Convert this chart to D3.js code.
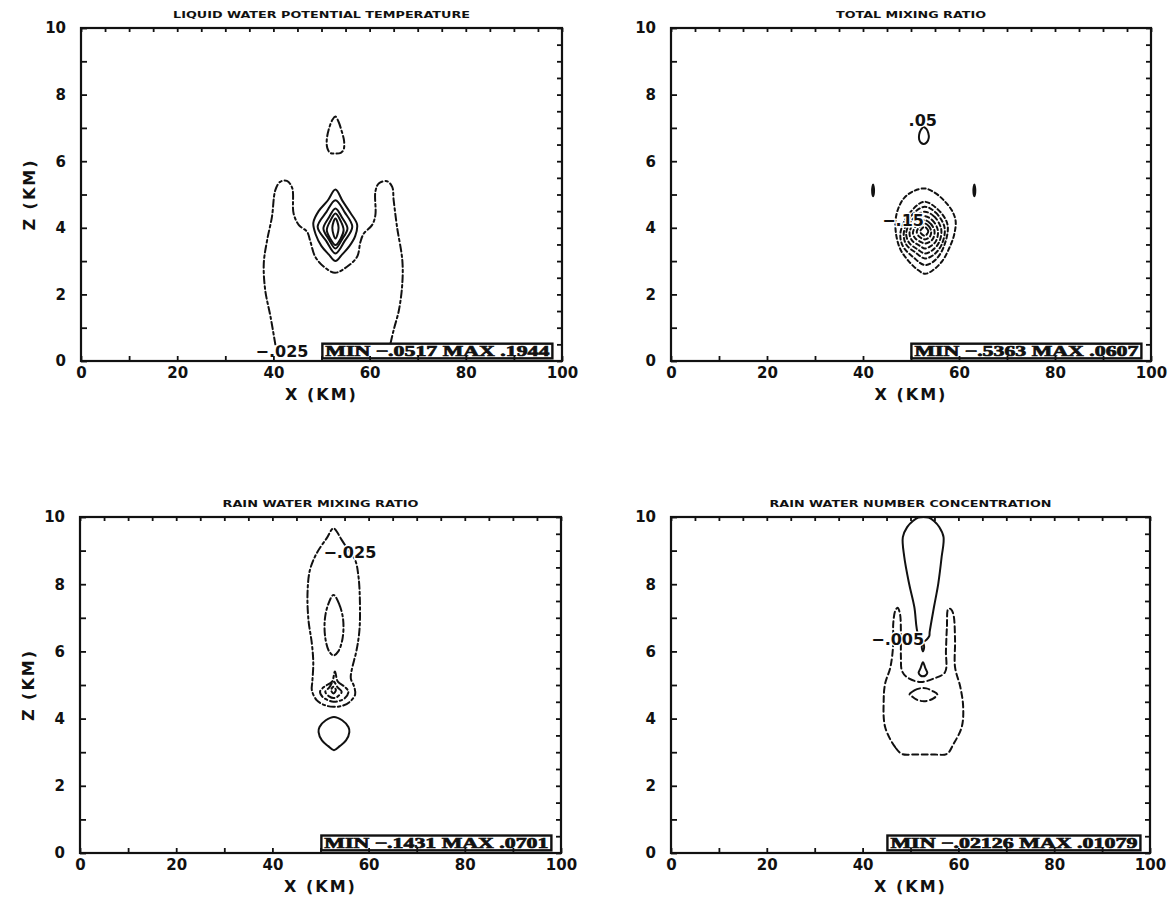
<!DOCTYPE html>
<html>
<head>
<meta charset="utf-8">
<script src="https://cdn.jsdelivr.net/npm/d3@7"></script>
<style>
  body { margin: 0; background: #fff; }
  svg { display: block; }
</style>
</head>
<body>
<svg id="fig" width="1173" height="899"></svg>
<script>
// ---- axis values -------------------------------------------------------
const xTicks = [0, 20, 40, 60, 80, 100];
const zTicks = [0, 2, 4, 6, 8, 10];

// ---- panel titles and field extremes -----------------------------------
const titles = [
  "LIQUID WATER POTENTIAL TEMPERATURE",
  "TOTAL MIXING RATIO",
  "RAIN WATER MIXING RATIO",
  "RAIN WATER NUMBER CONCENTRATION"
];
const minVals = ["\u2212.0517", "\u2212.5363", "\u2212.1431", "\u2212.02126"];
const maxVals = [".1944", ".0607", ".0701", ".01079"];

// ---- contour lines: [x (km), z (km)] vertices; sign = sign of contour level
// Liquid water potential temperature perturbation
const lwptLines = [
  { sign: -1, closed: false, pts: [[40.4,0.5],[39.4,1.33],[38.3,2.13],[38.0,2.93],[38.7,3.63],[39.7,4.33],[40.4,5.13],[41.4,5.38],[42.8,5.41],[43.9,5.2],[44.2,4.43],[45.3,4.08],[47.0,3.88],[47.7,3.58],[48.7,3.13],[50.5,2.83],[52.8,2.65],[55.3,2.83],[57.4,3.13],[58.1,3.58],[58.8,3.83],[60.5,4.08],[61.2,4.38],[61.2,5.08],[61.9,5.33],[63.6,5.4],[64.7,5.23],[65.0,4.83],[65.7,4.03],[66.8,3.03],[66.8,2.33],[66.1,1.53],[65.0,0.93],[64.3,0.5]] },
  { sign: -1, closed: true, pts: [[52.9,7.34],[53.5,7.2],[54.2,6.9],[54.7,6.6],[54.6,6.35],[54.0,6.25],[52.9,6.23],[51.8,6.25],[51.2,6.4],[51.1,6.65],[51.6,7.0],[52.3,7.25]] },
  { sign: 1, closed: true, pts: [[52.9,5.15],[54.4,4.8],[56.0,4.45],[57.4,4.1],[57.0,3.75],[55.8,3.45],[54.3,3.2],[52.9,3.0],[51.5,3.2],[50.0,3.45],[48.8,3.8],[48.3,4.15],[49.4,4.5],[51.3,4.82]] },
  { sign: 1, closed: true, pts: [[52.9,4.83],[54.8,4.47],[56.4,4.03],[54.8,3.6],[52.9,3.23],[51.0,3.6],[49.2,4.03],[51.0,4.47]] },
  { sign: 1, closed: true, pts: [[52.9,4.58],[54.3,4.3],[55.4,3.98],[54.3,3.66],[52.9,3.38],[51.5,3.66],[50.4,3.98],[51.5,4.3]] },
  { sign: 1, closed: true, pts: [[52.9,4.43],[54.0,4.2],[54.6,3.93],[54.0,3.68],[52.9,3.48],[51.8,3.68],[51.1,3.93],[51.8,4.2]] },
  { sign: 1, closed: true, pts: [[52.9,4.28],[53.55,4.0],[52.9,3.68],[52.25,4.0]] }
];
const lwptLabels = [{ text: "\u2212.025", x: 36.3, z: 0.3 }];

// Total mixing ratio perturbation
const qtLines = [
  { sign: 1, closed: true, pts: [[52.6,7.03],[52.1,6.95],[51.7,6.8],[51.7,6.65],[52.1,6.55],[52.7,6.52],[53.3,6.57],[53.7,6.7],[53.6,6.85],[53.2,6.97]] },
  { sign: 1, closed: true, pts: [[42.1,5.3],[42.3,5.12],[42.1,4.95],[41.9,5.12]] },
  { sign: 1, closed: true, pts: [[63.2,5.3],[63.4,5.12],[63.2,4.95],[63.0,5.12]] },
  { sign: -1, closed: true, pts: [[52.9,5.18],[55.0,5.05],[57.0,4.8],[58.6,4.5],[59.3,4.2],[59.0,3.8],[58.0,3.4],[56.5,3.0],[54.5,2.72],[52.9,2.62],[51.3,2.75],[49.5,3.0],[47.8,3.35],[46.9,3.8],[46.8,4.25],[47.4,4.6],[48.6,4.9],[50.5,5.1]] },
  { sign: -1, closed: true, pts: [[52.7,4.78],[55.6,4.55],[57.6,4.1],[57.0,3.5],[55.2,3.05],[52.9,2.88],[50.6,3.1],[48.3,3.45],[47.8,3.85],[49.5,4.4]] },
  { sign: -1, closed: true, pts: [[52.8,4.63],[55.2,4.45],[57.0,4.0],[56.4,3.5],[54.8,3.2],[52.9,3.08],[51.0,3.25],[49.0,3.5],[48.5,3.85],[50.0,4.35]] },
  { sign: -1, closed: true, pts: [[52.8,4.48],[54.9,4.33],[56.3,3.95],[55.8,3.55],[54.4,3.32],[52.9,3.23],[51.4,3.35],[49.6,3.55],[49.0,3.85],[50.3,4.25]] },
  { sign: -1, closed: true, pts: [[52.8,4.35],[54.5,4.22],[55.6,3.92],[55.2,3.6],[54.1,3.45],[52.9,3.38],[51.7,3.47],[50.2,3.62],[49.7,3.85],[50.8,4.18]] },
  { sign: -1, closed: true, pts: [[52.8,4.23],[54.1,4.12],[54.9,3.9],[54.6,3.68],[53.8,3.57],[52.9,3.53],[52.0,3.58],[50.9,3.68],[50.4,3.85],[51.3,4.1]] },
  { sign: -1, closed: true, pts: [[52.8,4.13],[53.7,4.05],[54.2,3.9],[54.0,3.75],[53.5,3.68],[52.9,3.65],[52.3,3.68],[51.6,3.75],[51.2,3.88],[51.9,4.05]] },
  { sign: -1, closed: true, pts: [[52.8,4.03],[53.6,3.9],[52.9,3.76],[51.9,3.88]] }
];
const qtLabels = [
  { text: ".05", x: 49.5, z: 7.22 },
  { text: "\u2212.15", x: 44.0, z: 4.22 }
];

// Rain water mixing ratio perturbation
const qrLines = [
  { sign: -1, closed: true, pts: [[52.7,9.66],[54.4,9.32],[55.8,9.0],[57.2,8.72],[57.9,8.22],[58.2,7.43],[58.1,6.64],[57.5,6.04],[56.5,5.45],[56.3,5.2],[57.0,4.95],[57.2,4.72],[56.1,4.5],[54.5,4.38],[52.7,4.35],[50.9,4.4],[49.2,4.55],[48.2,4.85],[48.3,5.1],[48.5,5.65],[48.2,6.24],[47.5,6.93],[47.3,7.73],[47.8,8.42],[49.2,8.92],[51.3,9.37]] },
  { sign: -1, closed: true, pts: [[52.7,7.68],[53.9,7.4],[54.7,6.95],[54.6,6.4],[53.7,6.0],[52.7,5.88],[51.8,6.0],[51.0,6.4],[50.9,6.95],[51.6,7.4]] },
  { sign: -1, closed: true, pts: [[53.0,5.4],[53.6,5.1],[55.0,4.95],[55.8,4.8],[55.0,4.6],[53.8,4.52],[52.7,4.5],[51.5,4.55],[50.4,4.65],[49.9,4.8],[50.8,4.95],[52.4,5.1]] },
  { sign: -1, closed: true, pts: [[52.7,5.1],[53.6,4.92],[54.4,4.8],[53.6,4.66],[52.7,4.61],[51.8,4.66],[51.0,4.8],[51.8,4.92]] },
  { sign: -1, closed: true, pts: [[52.7,4.95],[53.2,4.85],[52.7,4.75],[52.2,4.85]] },
  { sign: 1, closed: true, pts: [[52.8,4.05],[54.5,3.95],[55.8,3.75],[56.0,3.6],[55.3,3.35],[54.0,3.18],[52.8,3.06],[51.6,3.18],[50.3,3.35],[49.6,3.6],[49.8,3.75],[51.1,3.95]] }
];
const qrLabels = [{ text: "\u2212.025", x: 50.6, z: 8.96 }];

// Rain water number concentration perturbation
const nrLines = [
  { sign: 1, closed: true, pts: [[52.75,6.3],[51.6,6.5],[50.8,7.32],[49.7,8.02],[48.7,8.81],[48.4,9.4],[49.3,9.7],[50.5,9.88],[51.6,9.98],[52.7,10.0],[53.8,9.98],[54.9,9.88],[56.0,9.7],[56.9,9.4],[56.5,8.81],[55.8,8.02],[54.9,7.32],[54.0,6.58],[53.9,6.45]] },
  { sign: 1, closed: true, pts: [[52.6,6.25],[52.85,6.13],[52.6,6.0],[52.35,6.13]] },
  { sign: 1, closed: true, pts: [[52.6,5.68],[53.1,5.5],[53.5,5.36],[53.1,5.28],[52.6,5.26],[52.1,5.28],[51.7,5.36],[52.1,5.5]] },
  { sign: -1, closed: true, pts: [[48.2,2.95],[46.8,3.15],[44.7,3.75],[44.4,4.54],[44.7,5.04],[45.8,5.53],[46.4,6.23],[46.4,6.83],[46.8,7.2],[47.3,7.3],[47.8,7.12],[48.0,6.53],[48.0,5.83],[48.2,5.43],[49.2,5.24],[52.0,5.09],[54.8,5.19],[57.2,5.38],[57.4,6.03],[57.6,6.72],[57.9,7.27],[58.5,7.25],[59.0,7.07],[59.3,6.33],[59.3,5.53],[60.4,4.94],[61.0,4.34],[60.7,3.75],[59.0,3.25],[57.6,2.95],[55.0,2.93],[52.9,2.93],[50.5,2.93]] },
  { sign: -1, closed: true, pts: [[49.8,4.72],[50.8,4.84],[52.0,4.9],[53.3,4.9],[54.6,4.82],[55.6,4.72],[54.8,4.6],[53.5,4.53],[52.5,4.52],[51.2,4.57],[50.3,4.66]] }
];
const nrLabels = [{ text: "\u2212.005", x: 41.8, z: 6.36 }];

// ---- layout -------------------------------------------------------------
const frames = [
  { x0: 81,  x1: 562,  y0: 28,  y1: 361, zTitle: true,  titleW: 297, dash: "7,3,2.5,3" },
  { x0: 671, x1: 1151, y0: 28,  y1: 361, zTitle: false, titleW: 150, dash: "4,3" },
  { x0: 80,  x1: 561,  y0: 517, y1: 853, zTitle: true,  titleW: 196, dash: "7,3,2.5,3" },
  { x0: 671, x1: 1150, y0: 517, y1: 853, zTitle: false, titleW: 282, dash: "6,3.5" }
];
const fields = [
  { lines: lwptLines, labels: lwptLabels },
  { lines: qtLines,   labels: qtLabels },
  { lines: qrLines,   labels: qrLabels },
  { lines: nrLines,   labels: nrLabels }
];

const svg = d3.select("#fig");
const INK = "#111";
const BOLD = "'DejaVu Sans', sans-serif";

function drawPanel(i) {
  const f = frames[i], data = fields[i];
  const x = d3.scaleLinear().domain([0, 100]).range([f.x0, f.x1]);
  const z = d3.scaleLinear().domain([0, 10]).range([f.y1, f.y0]);
  const g = svg.append("g");

  // contour lines
  const open = d3.line().x(d => x(d[0])).y(d => z(d[1])).curve(d3.curveCatmullRom.alpha(0.5));
  const closed = d3.line().x(d => x(d[0])).y(d => z(d[1])).curve(d3.curveCatmullRomClosed.alpha(0.5));
  g.append("g").selectAll("path").data(data.lines).join("path")
    .attr("d", d => (d.closed ? closed : open)(d.pts))
    .attr("fill", "none")
    .attr("stroke", INK)
    .attr("stroke-width", 2)
    .attr("stroke-linejoin", "round")
    .attr("stroke-linecap", "round")
    .attr("stroke-dasharray", d => d.sign < 0 ? f.dash : null);

  // contour labels
  g.selectAll("text.clab").data(data.labels).join("text")
    .attr("class", "clab")
    .attr("x", d => x(d.x))
    .attr("y", d => z(d.z))
    .attr("dy", "0.36em")
    .attr("font-family", BOLD)
    .attr("font-weight", "bold")
    .attr("font-size", 16)
    .attr("fill", INK)
    .attr("stroke", "#fff")
    .attr("stroke-width", 3)
    .attr("paint-order", "stroke")
    .text(d => d.text);

  // MIN / MAX box, right aligned inside the frame
  const boxText = `MIN ${minVals[i]} MAX ${maxVals[i]}`;
  const bw = boxText.length * 11.5;
  const bxr = x(98), byt = z(0.52), byb = z(0.08);
  g.append("rect")
    .attr("x", bxr - bw).attr("y", byt)
    .attr("width", bw).attr("height", byb - byt)
    .attr("fill", "#fff").attr("stroke", INK).attr("stroke-width", 2.4);
  g.append("text")
    .attr("x", bxr - bw + 3).attr("y", (byt + byb) / 2)
    .attr("dy", "0.36em")
    .attr("textLength", bw - 6)
    .attr("lengthAdjust", "spacingAndGlyphs")
    .attr("font-family", "'Liberation Serif', serif")
    .attr("font-weight", "bold")
    .attr("font-size", 15)
    .attr("fill", INK)
    .attr("stroke", INK).attr("stroke-width", 0.7)
    .text(boxText);

  // axes: inward ticks on all four sides
  const styleAxis = sel => {
    sel.select(".domain").remove();
    sel.selectAll(".tick line").attr("stroke", INK).attr("stroke-width", 1.8);
    sel.selectAll(".tick text")
      .attr("font-family", BOLD).attr("font-weight", "bold")
      .attr("font-size", 15).attr("fill", INK);
  };
  g.append("g").attr("transform", `translate(0,${f.y1})`)
    .call(d3.axisBottom(x).tickValues(d3.range(0, 101, 10)).tickSize(-5).tickPadding(6)
      .tickFormat(d => xTicks.includes(d) ? d : ""))
    .call(styleAxis);
  g.append("g").attr("transform", `translate(0,${f.y0})`)
    .call(d3.axisTop(x).tickValues(d3.range(0, 101, 5)).tickSize(-4).tickFormat(""))
    .call(styleAxis);
  g.append("g").attr("transform", `translate(${f.x0},0)`)
    .call(d3.axisLeft(z).tickValues(d3.range(0, 11, 1)).tickSize(-6).tickPadding(15)
      .tickFormat(d => zTicks.includes(d) ? d : ""))
    .call(styleAxis);
  g.append("g").attr("transform", `translate(${f.x1},0)`)
    .call(d3.axisRight(z).tickValues(d3.range(0, 10.01, 0.5)).tickSize(-5).tickFormat(""))
    .call(styleAxis);

  // frame
  g.append("rect")
    .attr("x", f.x0).attr("y", f.y0)
    .attr("width", f.x1 - f.x0).attr("height", f.y1 - f.y0)
    .attr("fill", "none").attr("stroke", INK).attr("stroke-width", 2.2);

  // title
  g.append("text")
    .attr("x", (f.x0 + f.x1) / 2 - f.titleW / 2).attr("y", f.y0 - 10.5)
    .attr("textLength", f.titleW).attr("lengthAdjust", "spacingAndGlyphs")
    .attr("font-family", BOLD).attr("font-weight", "bold").attr("font-size", 9.5)
    .attr("fill", INK)
    .text(titles[i]);

  // axis titles
  g.append("text")
    .attr("x", (f.x0 + f.x1) / 2).attr("y", f.y1 + 39)
    .attr("text-anchor", "middle")
    .attr("font-family", BOLD).attr("font-weight", "bold").attr("font-size", 16)
    .attr("letter-spacing", 2).attr("fill", INK)
    .text("X (KM)");
  if (f.zTitle) {
    g.append("text")
      .attr("transform", `translate(${f.x0 - 52},${(f.y0 + f.y1) / 2}) rotate(-90)`)
      .attr("text-anchor", "middle").attr("dy", "0.36em")
      .attr("font-family", BOLD).attr("font-weight", "bold").attr("font-size", 16)
      .attr("letter-spacing", 2).attr("fill", INK)
      .text("Z (KM)");
  }
}

frames.forEach((_, i) => drawPanel(i));
</script>
</body>
</html>
